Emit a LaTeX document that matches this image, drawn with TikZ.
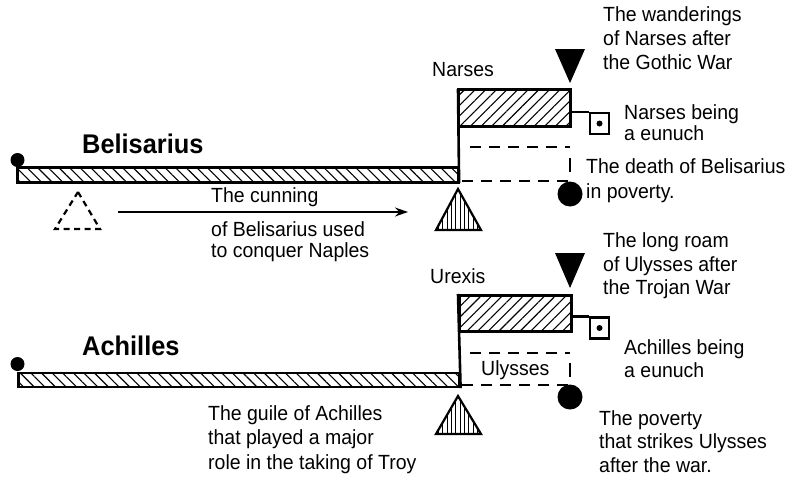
\documentclass[tikz,border=0pt]{standalone}
\usepackage{fontspec}
\setmainfont{Liberation Sans}[FakeStretch=0.95]
\newfontfamily\condfont{Liberation Sans}[FakeStretch=0.94]
\usetikzlibrary{patterns.meta,arrows.meta}
\tikzset{
  txt/.style={inner sep=0pt, anchor=base west, align=left, font=\fontsize{20.5}{24}\selectfont},
  head/.style={inner sep=0pt, anchor=base west, font=\condfont\bfseries\fontsize{27}{30}\selectfont},
  bar/.style={draw, line width=2.6pt, inner sep=0pt, anchor=north west,
    pattern={Lines[angle=-45,distance=7.5pt,line width=1.1pt]}},
  block/.style={draw, line width=2.6pt, inner sep=0pt, anchor=north west,
    pattern={Lines[angle=45,distance=7.5pt,line width=1.1pt]}},
  thickline/.style={line width=2.6pt},
  dotn/.style={circle, fill=black, inner sep=0pt},
  sqbox/.style={draw, line width=2.2pt, inner sep=0pt, minimum width=19pt, minimum height=21pt},
  dashline/.style={line width=2.4pt, dash pattern=on 11pt off 8pt},
  stripetri/.style={line width=2.2pt, line join=miter, pattern={Lines[angle=90,distance=4.3pt,line width=0.9pt]}},
}
\begin{document}
\begin{tikzpicture}[x=1pt,y=-1pt]
\useasboundingbox (0,0) rectangle (798,480);
% ---------- top: Belisarius ----------
\node[bar, minimum width=441pt, minimum height=15pt] (bar1) at (17,167) {};
\node[dotn, minimum size=14pt] (d1) at (17.5,160) {};
\node[block, minimum width=112pt, minimum height=37pt] (blk1) at (458,89) {};
\draw[thickline] (bar1.south east) -- (blk1.north west);
\node[sqbox] (sq1) at (599.5,123.5) {};
\node[dotn, minimum size=6pt] (sd1) at (sq1.center) {};
\draw[line width=2.2pt] (blk1.east |- sq1.north) -- (sq1.north west);
\fill (555,49) -- (585,49) -- (570,83) -- cycle;
\coordinate (dt1) at (470,147);
\coordinate (dr1) at (570,147);
\coordinate (db1) at (462,181);
\coordinate (dbr1) at (570,181);
\draw[dashline] (dt1) -- (dr1);
\draw[dashline, dash pattern=on 14pt off 20pt] (570,158) -- (570,173);
\draw[dashline] (db1) -- (dbr1);
\node[dotn, minimum size=25pt] (c1) at (570,194) {};
\draw[stripetri] (458,189) -- (481,230) -- (436,230) -- cycle;
\draw[line width=2.2pt, dash pattern=on 6pt off 4.5pt] (78,192) -- (100,229) -- (55,229) -- cycle;
\coordinate (a1s) at (118,212);
\coordinate (a1e) at (408,212);
\draw[line width=1.3pt, -{Stealth[length=13pt,width=9pt]}] (a1s) -- (a1e);
\node[head] (h1) at (82,153) {Belisarius};
\node[txt] (t1) at (211,202) {The cunning};
\node[txt, font=\fontsize{20.5}{20.6}\selectfont] (t2) at (211,257.3) {of Belisarius used\\to conquer Naples};
\node[txt] (t3) at (432,76) {Narses};
\node[txt, font=\fontsize{20.5}{23.7}\selectfont] (t4) at (603,69) {The wanderings\\of Narses after\\the Gothic War};
\node[txt, font=\fontsize{20.5}{21}\selectfont] (t5) at (624,140) {Narses being\\a eunuch};
\node[txt, font=\fontsize{20.5}{25}\selectfont] (t6) at (586,198) {The death of Belisarius\\in poverty.};
% ---------- bottom: Achilles ----------
\node[bar, minimum width=441pt, minimum height=14pt] (bar2) at (17,371.5) {};
\node[dotn, minimum size=14pt] (d2) at (17.5,364) {};
\node[block, minimum width=112pt, minimum height=36pt] (blk2) at (458,294) {};
\draw[thickline] (bar2.south east) -- (blk2.north west);
\node[sqbox] (sq2) at (599.5,328) {};
\node[dotn, minimum size=6pt] (sd2) at (sq2.center) {};
\draw[line width=2.2pt] (blk2.east |- sq2.north) -- (sq2.north west);
\fill (555,253) -- (585,253) -- (570,288) -- cycle;
\coordinate (dt2) at (470,353);
\coordinate (dr2) at (570,353);
\coordinate (db2) at (462,385);
\coordinate (dbr2) at (570,385);
\draw[dashline] (dt2) -- (dr2);
\draw[dashline, dash pattern=on 14pt off 20pt] (570,363) -- (570,377);
\draw[dashline] (db2) -- (dbr2);
\node[dotn, minimum size=25pt] (c2) at (570,397) {};
\draw[stripetri] (458,396) -- (481,434) -- (436,434) -- cycle;
\node[head] (h2) at (82,355) {Achilles};
\node[txt] (u1) at (481,375) {Ulysses};
\node[txt] (u2) at (430,283) {Urexis};
\node[txt, font=\fontsize{20.5}{23.3}\selectfont] (u3) at (603,294.5) {The long roam\\of Ulysses after\\the Trojan War};
\node[txt, font=\fontsize{20.5}{23}\selectfont] (u4) at (624,377) {Achilles being\\a eunuch};
\node[txt, font=\fontsize{20.5}{23.5}\selectfont] (u5) at (599,472) {The poverty\\that strikes Ulysses\\after the war.};
\node[txt, font=\fontsize{20.5}{24.5}\selectfont] (u6) at (208,469) {The guile of Achilles\\that played a major\\role in the taking of Troy};
\end{tikzpicture}
\end{document}
